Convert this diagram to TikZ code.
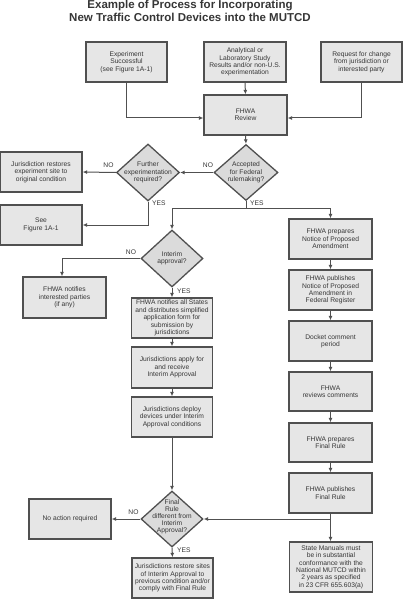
\documentclass[tikz,border=0pt]{standalone}
\usepackage{fontspec}
\setmainfont{Liberation Sans}
\usetikzlibrary{shapes.geometric,arrows.meta}
\definecolor{boxfill}{HTML}{E6E6E6}
\definecolor{dmdfill}{HTML}{DBDBDB}
\definecolor{edgec}{HTML}{505050}
\definecolor{txtc}{HTML}{363636}
\begin{document}
\begin{tikzpicture}[x=1pt,y=-1pt,
  small/.style={font=\fontsize{6.7}{7.4}\selectfont, text=txtc},
  procbox/.style={small, draw=edgec, fill=boxfill, line width=1.3pt, rectangle, align=center, inner sep=0pt},
  dmd/.style={draw=edgec, fill=dmdfill, line width=1.3pt, diamond, inner sep=0pt, minimum width=63pt, minimum height=57pt},
  dtext/.style={small, align=center, inner sep=0pt},
  lbl/.style={small, inner sep=0pt},
  conn/.style={draw=edgec, line width=1pt},
  arr/.style={conn, -{Latex[length=4.5pt,width=4pt]}},
  titlef/.style={font=\fontsize{11.5}{13}\selectfont\bfseries, text=txtc, inner sep=0pt}
]
\useasboundingbox (0,0) rectangle (403,599);

% title
\node[titlef, anchor=base] (t1) at (190,8.5) {Example of Process for Incorporating};
\node[titlef, anchor=base] (t2) at (190,21.8) {New Traffic Control Devices into the MUTCD};

% top row
\node[procbox, minimum width=81pt, minimum height=40pt] (exp) at (126.5,62) {Experiment\\Successful\\(see Figure 1A-1)};
\node[procbox, minimum width=82pt, minimum height=40pt] (ana) at (245,62) {Analytical or\\Laboratory Study\\Results and/or non-U.S.\\experimentation};
\node[procbox, minimum width=81pt, minimum height=40pt] (req) at (361.5,62) {Request for change\\from jurisdiction or\\interested party};
\node[procbox, minimum width=83pt, minimum height=40pt] (rev) at (245.5,115) {FHWA\\Review};

% decisions
\node[dmd, minimum width=64pt, minimum height=56pt] (acc) at (246,172.5) {};
\node[dtext] (acct) at (acc.center) {Accepted\\for Federal\\rulemaking?};
\node[dmd] (fur) at (148,172.5) {};
\node[dtext] (furt) at (fur.center) {Further\\experimentation\\required?};

% left boxes
\node[procbox, minimum width=82pt, minimum height=40pt] (jr) at (41,172) {Jurisdiction restores\\experiment site to\\original condition};
\node[procbox, minimum width=82pt, minimum height=40pt] (see) at (41,225) {See\\Figure 1A-1};

% middle column
\node[dmd, minimum width=62pt] (int) at (172,258.5) {};
\node[dtext] (intt) at (int.center) {Interim\\approval?};
\node[procbox, minimum width=83pt, minimum height=41pt] (ntf) at (64.5,297.5) {FHWA notifies\\interested parties\\(if any)};
\node[procbox, minimum width=81pt, minimum height=40pt] (nall) at (172,318) {FHWA notifies all States\\and distributes simplified\\application form for\\submission by\\jurisdictions};
\node[procbox, minimum width=81pt, minimum height=41pt] (app) at (172,367.5) {Jurisdictions apply for\\and receive\\Interim Approval};
\node[procbox, minimum width=81pt, minimum height=40pt] (dep) at (172,417) {Jurisdictions deploy\\devices under Interim\\Approval conditions};
\node[dmd, minimum width=62pt, minimum height=56pt] (fdm) at (172,519) {};
\node[dtext, font=\fontsize{6.7}{7.1}\selectfont] (fdmt) at ([yshift=2.5pt]fdm.center) {Final\\Rule\\different from\\Interim\\Approval?};
\node[procbox, minimum width=82pt, minimum height=40pt] (noa) at (70,519) {No action required};
\node[procbox, minimum width=81pt, minimum height=40pt] (rst) at (172.5,578) {Jurisdictions restore sites\\of Interim Approval to\\previous condition and/or\\comply with Final Rule};

% right column
\node[procbox, minimum width=83pt, minimum height=40pt] (nopa) at (330.5,239) {FHWA prepares\\Notice of Proposed\\Amendment};
\node[procbox, minimum width=83pt, minimum height=40pt] (pnopa) at (330.5,290) {FHWA publishes\\Notice of Proposed\\Amendment in\\Federal Register};
\node[procbox, minimum width=83pt, minimum height=40pt] (dock) at (330.5,341) {Docket comment\\period};
\node[procbox, minimum width=83pt, minimum height=39pt] (rvc) at (330.5,391.5) {FHWA\\reviews comments};
\node[procbox, minimum width=83pt, minimum height=39pt] (pfr) at (330.5,442.5) {FHWA prepares\\Final Rule};
\node[procbox, minimum width=83pt, minimum height=40pt] (pbf) at (330.5,493) {FHWA publishes\\Final Rule};
\node[procbox, minimum width=83pt, minimum height=50pt] (sm) at (331,567) {State Manuals must\\be in substantial\\conformance with the\\National MUTCD within\\2 years as specified\\in 23 CFR 655.603(a)};

% helper coordinates
\coordinate (inY) at (0,118);
\coordinate (ysplit) at (246,208);

% connectors top
\draw[arr] (exp.south) |- (rev.west |- inY);
\draw[arr] (req.south) |- (rev.east |- inY);
\draw[arr] (ana.south) -- (rev.north);
\draw[arr] (rev.south) -- (acc.north);

\draw[arr] (acc.west) -- (fur.east);
\draw[arr] (fur.west) -- (jr.east);
\draw[arr] (fur.south) |- (see.east);

\draw[conn] (acc.south) -- (ysplit);
\draw[arr] (ysplit) -| (int.north);
\draw[arr] (ysplit) -| (nopa.north);

% middle
\draw[arr] (int.west) -| ([xshift=-2.5pt]ntf.north);
\draw[arr] (int.south) -- (nall.north);
\draw[arr] (nall.south) -- (app.north);
\draw[arr] (app.south) -- (dep.north);
\draw[arr] (dep.south) -- (fdm.north);
\draw[arr] (fdm.west) -- (noa.east);
\draw[arr] (fdm.south) -- (rst.north);

% right
\draw[arr] (nopa.south) -- (pnopa.north);
\draw[arr] (pnopa.south) -- (dock.north);
\draw[arr] (dock.south) -- (rvc.north);
\draw[arr] (rvc.south) -- (pfr.north);
\draw[arr] (pfr.south) -- (pbf.north);
\draw[arr] (pbf.south) -- (pbf.south |- sm.north);
\draw[arr] (pbf.south |- fdm.east) -- (fdm.east);

% labels
\node[lbl] (l1) at (208,165.5) {NO};
\node[lbl] (l2) at (108.5,165.5) {NO};
\node[lbl, anchor=west] (l3) at (152,203) {YES};
\node[lbl, anchor=west] (l4) at (250,203) {YES};
\node[lbl] (l5) at (131,252) {NO};
\node[lbl, anchor=west] (l6) at (177,291) {YES};
\node[lbl] (l7) at (133.5,512.5) {NO};
\node[lbl, anchor=west] (l8) at (177,550) {YES};
\end{tikzpicture}
\end{document}
